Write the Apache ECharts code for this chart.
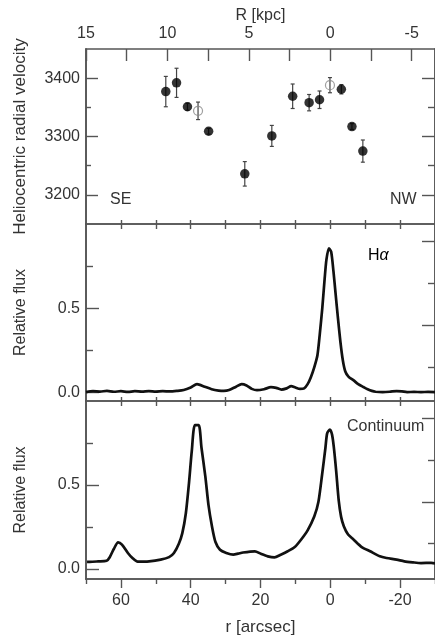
<!DOCTYPE html>
<html>
<head>
<meta charset="utf-8">
<script src="https://cdn.jsdelivr.net/npm/echarts@6/dist/echarts.min.js"></script>
<style>html,body{margin:0;padding:0;background:#fff;}#c{width:435px;height:641px;}</style>
</head>
<body>
<div id="c"></div>
<script>
// ---- tick labels ----
const kpcLabelTicks = [15, 10, 5, 0, -5];
const kpcTicks = [15, 12.5, 10, 7.5, 5, 2.5, 0, -2.5, -5];
const arcsecLabelTicks = [60, 40, 20, 0, -20];
const arcsecMinorTicks = [70, 50, 30, 10, -10, -30];
const arcsecInnerTicks = [60, 50, 40, 30, 20, 10, 0, -10, -20];
const velMajorTicks = [3400, 3300, 3200];
const velMinorTicks = [3350, 3250];
const fluxMajorTicks = [0, 0.5];
const fluxMinorTicks = [0.25, 0.75];
const fluxRightLong = [0.4, 0.9];
const fluxRightShort = [0.15, 0.65];

// ---- velocity points (R in kpc, velocity km/s, error) ----
const filledR   = [10.10, 9.44, 8.77, 7.47, 5.25, 3.59, 2.31, 1.30, 0.66, -0.68, -1.33, -2.00];
const filledVel = [3377, 3392, 3351, 3309, 3236, 3301, 3369, 3358, 3363, 3381, 3317, 3275];
const filledErr = [26, 25, 6, 5, 21, 18, 21, 14, 15, 8, 5, 19];
const openR   = [8.12, 0.02];
const openVel = [3344, 3388];
const openErr = [15, 13];

// ---- H-alpha profile (r arcsec, relative flux) ----
const haR = [70, 68, 66, 64, 62, 60, 58, 56, 54, 52, 50, 48, 46, 44, 42, 40, 38.2, 36, 34, 32, 30.5, 29, 27, 25.4, 24, 22.5, 21, 19, 17, 15.5, 14, 12.5, 11.2, 10, 8.7, 7.5, 6.5, 5.6, 4.6, 3.7, 3.0, 2.3, 1.6, 1.1, 0.4, -0.25, -0.9, -1.5, -2.2, -2.9, -3.6, -4.3, -5.2, -6.7, -8, -9.5, -10.7, -11.9, -13, -15, -17, -19, -20.5, -22, -24, -26, -28, -30];
const haFlux = [0.003, 0.008, 0.006, 0.010, 0.005, 0.008, 0.004, 0.008, 0.006, 0.009, 0.006, 0.008, 0.007, 0.010, 0.015, 0.030, 0.050, 0.035, 0.020, 0.012, 0.010, 0.015, 0.035, 0.050, 0.042, 0.022, 0.014, 0.020, 0.032, 0.028, 0.018, 0.025, 0.038, 0.030, 0.022, 0.025, 0.050, 0.090, 0.150, 0.220, 0.350, 0.500, 0.680, 0.790, 0.856, 0.835, 0.720, 0.590, 0.440, 0.300, 0.190, 0.125, 0.095, 0.072, 0.050, 0.033, 0.020, 0.010, 0.005, 0.003, 0.005, 0.009, 0.007, 0.003, 0.004, 0.003, 0.004, 0.003];

// ---- Continuum profile (r arcsec, relative flux) ----
const contR = [69.7, 68.9, 66.5, 64.1, 63.2, 62, 60.8, 59.7, 58, 56.7, 55.2, 51.9, 48.6, 46.2, 44.8, 43.4, 42.4, 41.4, 40.5, 39.7, 38.8, 37.7, 36.9, 35.8, 34.9, 33.9, 32.9, 31.6, 29.8, 27.8, 26.4, 25, 21.6, 19.9, 17.9, 16, 14.2, 12.2, 10.2, 8.4, 6.5, 4.6, 3.4, 2.3, 1.4, 0.9, 0.1, -0.5, -1.0, -1.7, -2.4, -3.1, -3.9, -5.1, -6.7, -9, -11.4, -14.2, -16.1, -19, -21.2, -23.7, -26, -28.9, -30];
const contFlux = [0.042, 0.042, 0.045, 0.049, 0.070, 0.120, 0.158, 0.145, 0.095, 0.065, 0.043, 0.045, 0.055, 0.070, 0.095, 0.150, 0.213, 0.330, 0.510, 0.700, 0.856, 0.856, 0.720, 0.550, 0.380, 0.253, 0.160, 0.114, 0.095, 0.085, 0.091, 0.098, 0.105, 0.090, 0.075, 0.069, 0.085, 0.105, 0.130, 0.174, 0.230, 0.312, 0.400, 0.570, 0.720, 0.807, 0.830, 0.800, 0.727, 0.580, 0.410, 0.310, 0.253, 0.205, 0.174, 0.130, 0.105, 0.075, 0.065, 0.055, 0.045, 0.039, 0.035, 0.036, 0.033];

const FONT = '"Liberation Sans", Arial, sans-serif';
const TXT = '#333';
const LINE = '#555';

function zip(a, b) { return a.map((v, i) => [v, b[i]]); }
function errData(r, v, e) { return r.map((x, i) => [x, v[i] - e[i], v[i] + e[i]]); }

const axLine = { show: true, onZero: false, lineStyle: { color: LINE, width: 1.6 } };

function xArc(grid, pos, ticks, len, inside, extra) {
  return Object.assign({
    type: 'value', gridIndex: grid, position: pos, min: -30, max: 70, inverse: true,
    axisLine: axLine, splitLine: { show: false },
    axisTick: { show: true, inside: inside, length: len, customValues: ticks, lineStyle: { color: LINE, width: 1.4 } },
    axisLabel: { show: false }
  }, extra || {});
}
function yAx(grid, pos, min, max, ticks, len, extra) {
  return Object.assign({
    type: 'value', gridIndex: grid, position: pos, min: min, max: max,
    axisLine: axLine, splitLine: { show: false },
    axisTick: { show: true, inside: true, length: len, customValues: ticks, lineStyle: { color: LINE, width: 1.4 } },
    axisLabel: { show: false }
  }, extra || {});
}

const chart = echarts.init(document.getElementById('c'), null, { renderer: 'canvas' });

const option = {
  animation: false,
  backgroundColor: '#fff',
  grid: [
    { left: 86, width: 353, top: 49, height: 175 },
    { left: 86, width: 353, top: 224, height: 177 },
    { left: 86, width: 353, top: 401, height: 178 }
  ],
  xAxis: [
    {
      type: 'value', gridIndex: 0, position: 'top', min: -6.43, max: 15, inverse: true,
      axisLine: axLine, splitLine: { show: false },
      axisTick: { show: true, inside: true, length: 12, customValues: kpcTicks, lineStyle: { color: LINE, width: 1.4 } },
      axisLabel: { show: true, customValues: kpcLabelTicks, margin: 7, fontSize: 16, fontFamily: FONT, color: TXT, formatter: v => String(v) },
      name: 'R [kpc]', nameLocation: 'middle', nameGap: 25,
      nameTextStyle: { fontSize: 16, fontFamily: FONT, color: TXT }
    },
    xArc(0, 'bottom', arcsecInnerTicks, 4, true),
    xArc(1, 'top', arcsecInnerTicks, 5, true),
    xArc(1, 'bottom', arcsecInnerTicks, 4, true),
    xArc(2, 'top', arcsecInnerTicks, 5, true),
    xArc(2, 'bottom', arcsecLabelTicks, 9, false, {
      axisLabel: { show: true, customValues: arcsecLabelTicks, margin: 14, fontSize: 16, fontFamily: FONT, color: TXT, formatter: v => String(v) },
      name: 'r [arcsec]', nameLocation: 'middle', nameGap: 40,
      nameTextStyle: { fontSize: 17, fontFamily: FONT, color: TXT }
    }),
    xArc(2, 'bottom', arcsecMinorTicks, 5, false)
  ],
  yAxis: [
    yAx(0, 'left', 3150, 3450, velMajorTicks, 12, {
      axisLabel: { show: true, customValues: velMajorTicks, margin: 6, fontSize: 16, fontFamily: FONT, color: TXT, formatter: v => String(v) },
      name: 'Heliocentric radial velocity', nameLocation: 'middle', nameRotate: 90, nameGap: 57,
      nameTextStyle: { fontSize: 17, fontFamily: FONT, color: TXT }
    }),
    yAx(0, 'left', 3150, 3450, velMinorTicks, 5),
    yAx(0, 'right', 3150, 3450, velMajorTicks, 13),
    yAx(0, 'right', 3150, 3450, velMinorTicks, 7),

    yAx(1, 'left', -0.05, 1.0, fluxMajorTicks, 13, {
      axisLabel: { show: true, customValues: fluxMajorTicks, margin: 6, fontSize: 16, fontFamily: FONT, color: TXT, formatter: v => v.toFixed(1) },
      name: 'Relative flux', nameLocation: 'middle', nameRotate: 90, nameGap: 57,
      nameTextStyle: { fontSize: 16, fontFamily: FONT, color: TXT }
    }),
    yAx(1, 'left', -0.05, 1.0, fluxMinorTicks, 7),
    yAx(1, 'right', -0.05, 1.0, fluxRightLong, 13),
    yAx(1, 'right', -0.05, 1.0, fluxRightShort, 7),

    yAx(2, 'left', -0.06, 1.0, fluxMajorTicks, 13, {
      axisLabel: { show: true, customValues: fluxMajorTicks, margin: 6, fontSize: 16, fontFamily: FONT, color: TXT, formatter: v => v.toFixed(1) },
      name: 'Relative flux', nameLocation: 'middle', nameRotate: 90, nameGap: 57,
      nameTextStyle: { fontSize: 16, fontFamily: FONT, color: TXT }
    }),
    yAx(2, 'left', -0.06, 1.0, fluxMinorTicks, 7),
    yAx(2, 'right', -0.06, 1.0, fluxRightLong, 13),
    yAx(2, 'right', -0.06, 1.0, fluxRightShort, 7)
  ],
  series: [
    {
      type: 'custom', xAxisIndex: 0, yAxisIndex: 0, z: 2,
      data: errData(filledR, filledVel, filledErr).concat(errData(openR, openVel, openErr)),
      encode: { x: 0, y: [1, 2] },
      renderItem: function (params, api) {
        const x = api.value(0);
        const p1 = api.coord([x, api.value(1)]);
        const p2 = api.coord([x, api.value(2)]);
        const c = 2;
        const st = { stroke: '#444', lineWidth: 1.2 };
        return {
          type: 'group', children: [
            { type: 'line', shape: { x1: p1[0], y1: p1[1], x2: p2[0], y2: p2[1] }, style: st },
            { type: 'line', shape: { x1: p1[0] - c, y1: p1[1], x2: p1[0] + c, y2: p1[1] }, style: st },
            { type: 'line', shape: { x1: p2[0] - c, y1: p2[1], x2: p2[0] + c, y2: p2[1] }, style: st }
          ]
        };
      }
    },
    {
      type: 'scatter', xAxisIndex: 0, yAxisIndex: 0, z: 3,
      data: zip(filledR, filledVel), symbol: 'circle', symbolSize: 9.5,
      itemStyle: { color: '#000' }
    },
    {
      type: 'scatter', xAxisIndex: 0, yAxisIndex: 0, z: 3,
      data: zip(openR, openVel), symbol: 'circle', symbolSize: 9,
      itemStyle: { color: 'rgba(255,255,255,0)', borderColor: '#888', borderWidth: 1.2 }
    },
    {
      type: 'line', xAxisIndex: 3, yAxisIndex: 4, data: zip(haR, haFlux),
      showSymbol: false, smooth: 0.25, lineStyle: { color: '#111', width: 2.7 }
    },
    {
      type: 'line', xAxisIndex: 5, yAxisIndex: 8, data: zip(contR, contFlux),
      showSymbol: false, smooth: 0.25, lineStyle: { color: '#111', width: 2.7 }
    }
  ],
  graphic: [
    { type: 'text', x: 110, y: 200, style: { text: 'SE', font: '16px ' + FONT, fill: TXT, textVerticalAlign: 'middle' } },
    { type: 'text', x: 390, y: 200, style: { text: 'NW', font: '16px ' + FONT, fill: TXT, textVerticalAlign: 'middle' } },
    { type: 'text', x: 368, y: 256, style: {
        text: '{h|H}{a|α}', textVerticalAlign: 'middle',
        rich: { h: { fontSize: 16, fontFamily: FONT, color: TXT }, a: { fontSize: 16, fontFamily: FONT, fontStyle: 'italic', color: TXT } }
      } },
    { type: 'text', x: 347, y: 427, style: { text: 'Continuum', font: '16px ' + FONT, fill: TXT, textVerticalAlign: 'middle' } }
  ]
};
chart.setOption(option);
</script>
</body>
</html>
